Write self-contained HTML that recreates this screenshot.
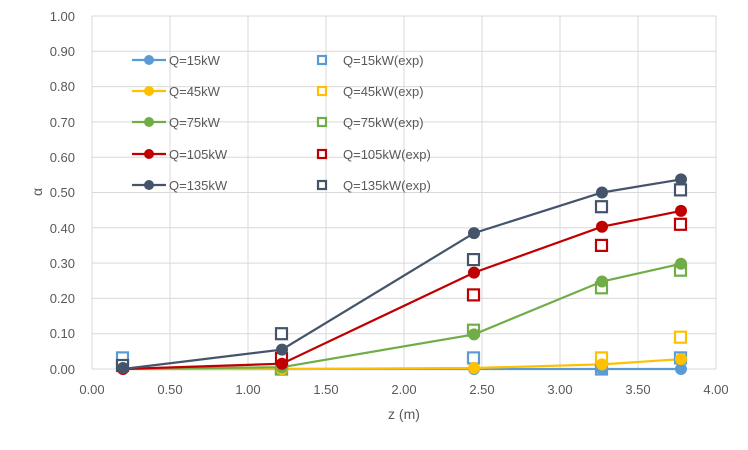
<!DOCTYPE html><html><head><style>body{margin:0;background:#fff}svg{font-family:"Liberation Sans",sans-serif}</style></head><body>
<svg width="748" height="445" xmlns="http://www.w3.org/2000/svg">
<rect width="748" height="445" fill="#fff"/>
<g stroke="#d9d9d9" stroke-width="1">
<line x1="92" y1="16" x2="716" y2="16"/><line x1="92" y1="51.3" x2="716" y2="51.3"/><line x1="92" y1="86.6" x2="716" y2="86.6"/><line x1="92" y1="121.9" x2="716" y2="121.9"/><line x1="92" y1="157.2" x2="716" y2="157.2"/><line x1="92" y1="192.5" x2="716" y2="192.5"/><line x1="92" y1="227.8" x2="716" y2="227.8"/><line x1="92" y1="263.1" x2="716" y2="263.1"/><line x1="92" y1="298.4" x2="716" y2="298.4"/><line x1="92" y1="333.7" x2="716" y2="333.7"/>
<line x1="170" y1="16" x2="170" y2="369"/><line x1="248" y1="16" x2="248" y2="369"/><line x1="326" y1="16" x2="326" y2="369"/><line x1="404" y1="16" x2="404" y2="369"/><line x1="482" y1="16" x2="482" y2="369"/><line x1="560" y1="16" x2="560" y2="369"/><line x1="638" y1="16" x2="638" y2="369"/><line x1="716" y1="16" x2="716" y2="369"/>
<line x1="92" y1="16" x2="92" y2="369"/><line x1="92" y1="369" x2="716" y2="369"/>
</g>
<g fill="#595959" font-size="13" text-anchor="end">
<text x="75" y="21">1.00</text><text x="75" y="56">0.90</text><text x="75" y="91">0.80</text><text x="75" y="127">0.70</text><text x="75" y="162">0.60</text><text x="75" y="197">0.50</text><text x="75" y="233">0.40</text><text x="75" y="268">0.30</text><text x="75" y="303">0.20</text><text x="75" y="338">0.10</text><text x="75" y="374">0.00</text>
</g>
<g fill="#595959" font-size="13" text-anchor="middle">
<text x="92" y="394">0.00</text><text x="170" y="394">0.50</text><text x="248" y="394">1.00</text><text x="326" y="394">1.50</text><text x="404" y="394">2.00</text><text x="482" y="394">2.50</text><text x="560" y="394">3.00</text><text x="638" y="394">3.50</text><text x="716" y="394">4.00</text>
<text x="404" y="419" font-size="14">z (m)</text>
<text x="38" y="196" font-size="14" transform="rotate(-90 38 192)">α</text>
</g>
<g fill="none" stroke-width="2.2">
<polyline stroke="#5B9BD5" points="123,369 282,369 474,369 602,369 681,369"/>
<polyline stroke="#FFC000" points="123,369 282,369 474,368 602,364.4 681,359.1"/>
<polyline stroke="#70AD47" points="123,369 282,367.2 474,334.4 602,281.5 681,263.8"/>
<polyline stroke="#C00000" points="123,369 282,363.7 474,272.6 602,226.7 681,210.9"/>
<polyline stroke="#44546A" points="123,369 282,349.6 474,233.1 602,192.5 681,179.4"/>
</g>
<g stroke-width="2.2" fill="#fff">
<g stroke="#5B9BD5"><rect x="117" y="352.4" width="11" height="11"/><rect x="468" y="352.4" width="11" height="11"/><rect x="675" y="352.4" width="11" height="11"/><rect x="276" y="363.5" width="11" height="11"/><rect x="596" y="363.5" width="11" height="11"/></g>
<g stroke="#FFC000"><rect x="596" y="352.4" width="11" height="11"/><rect x="675" y="331.7" width="11" height="11"/></g>
<g stroke="#70AD47"><rect x="468" y="324.7" width="11" height="11"/><rect x="596" y="282.3" width="11" height="11"/><rect x="675" y="264.7" width="11" height="11"/><rect x="276" y="363.5" width="11" height="11"/></g>
<g stroke="#C00000"><rect x="468" y="289.4" width="11" height="11"/><rect x="596" y="239.9" width="11" height="11"/><rect x="675" y="218.8" width="11" height="11"/><rect x="276" y="352.9" width="11" height="11"/></g>
<g stroke="#44546A"><rect x="117" y="360" width="11" height="11"/><rect x="276" y="328.2" width="11" height="11"/><rect x="468" y="254.1" width="11" height="11"/><rect x="596" y="201.2" width="11" height="11"/><rect x="675" y="184.4" width="11" height="11"/></g>
</g>
<g>
<g fill="#5B9BD5"><circle cx="602" cy="369" r="6"/><circle cx="681" cy="369" r="6"/><circle cx="474" cy="369" r="6"/></g>
<g fill="#FFC000"><circle cx="474" cy="368" r="6"/><circle cx="602" cy="364.4" r="6"/><circle cx="681" cy="359.1" r="6"/><circle cx="282" cy="369" r="6"/></g>
<g fill="#70AD47"><circle cx="282" cy="367.2" r="6"/><circle cx="474" cy="334.4" r="6"/><circle cx="602" cy="281.5" r="6"/><circle cx="681" cy="263.8" r="6"/></g>
<g fill="#C00000"><circle cx="123" cy="369" r="6"/><circle cx="282" cy="363.7" r="6"/><circle cx="474" cy="272.6" r="6"/><circle cx="602" cy="226.7" r="6"/><circle cx="681" cy="210.9" r="6"/></g>
<g fill="#44546A"><circle cx="123" cy="368" r="6"/><circle cx="282" cy="349.6" r="6"/><circle cx="474" cy="233.1" r="6"/><circle cx="602" cy="192.5" r="6"/><circle cx="681" cy="179.4" r="6"/></g>
</g>
<g font-size="13" fill="#595959">
<g stroke-width="2.2">
<line x1="132" y1="60" x2="166" y2="60" stroke="#5B9BD5"/><circle cx="149" cy="60" r="5" fill="#5B9BD5"/>
<line x1="132" y1="91" x2="166" y2="91" stroke="#FFC000"/><circle cx="149" cy="91" r="5" fill="#FFC000"/>
<line x1="132" y1="122" x2="166" y2="122" stroke="#70AD47"/><circle cx="149" cy="122" r="5" fill="#70AD47"/>
<line x1="132" y1="154" x2="166" y2="154" stroke="#C00000"/><circle cx="149" cy="154" r="5" fill="#C00000"/>
<line x1="132" y1="185" x2="166" y2="185" stroke="#44546A"/><circle cx="149" cy="185" r="5" fill="#44546A"/>
<rect x="318" y="56" width="8" height="8" fill="#fff" stroke="#5B9BD5"/>
<rect x="318" y="87" width="8" height="8" fill="#fff" stroke="#FFC000"/>
<rect x="318" y="118" width="8" height="8" fill="#fff" stroke="#70AD47"/>
<rect x="318" y="150" width="8" height="8" fill="#fff" stroke="#C00000"/>
<rect x="318" y="181" width="8" height="8" fill="#fff" stroke="#44546A"/>
</g>
<text x="169" y="65">Q=15kW</text><text x="169" y="96">Q=45kW</text><text x="169" y="127">Q=75kW</text><text x="169" y="159">Q=105kW</text><text x="169" y="190">Q=135kW</text>
<text x="343" y="65">Q=15kW(exp)</text><text x="343" y="96">Q=45kW(exp)</text><text x="343" y="127">Q=75kW(exp)</text><text x="343" y="159">Q=105kW(exp)</text><text x="343" y="190">Q=135kW(exp)</text>
</g>
</svg></body></html>
